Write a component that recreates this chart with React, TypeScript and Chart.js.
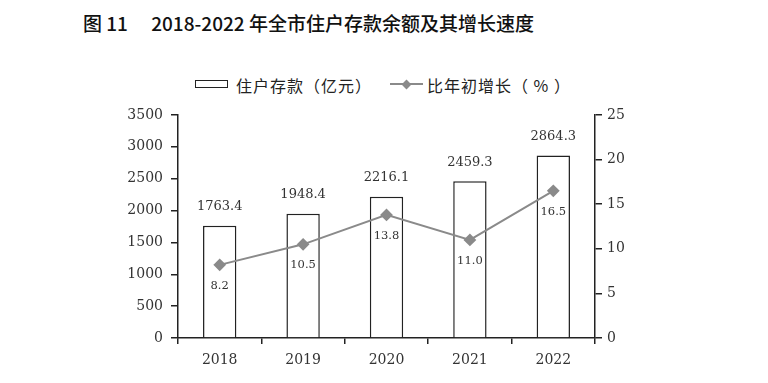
import React, { useEffect, useRef } from "react";
import { Chart, registerables } from "chart.js";

Chart.register(...registerables);

const categories = ["2018", "2019", "2020", "2021", "2022"];
const deposits = [1763.4, 1948.4, 2216.1, 2459.3, 2864.3];
const growth = [8.2, 10.5, 13.8, 11.0, 16.5];
const depositLabels = ["1763.4", "1948.4", "2216.1", "2459.3", "2864.3"];
const growthLabels = ["8.2", "10.5", "13.8", "11.0", "16.5"];

const titleText = "图 11\u2003 2018-2022 年全市住户存款余额及其增长速度";
const legendBar = "住户存款（亿元）";
const legendLine = "比年初增长（ % ）";

const serif = "'DejaVu Serif', 'Liberation Serif', serif";
const cjk = "'Noto Sans CJK SC', 'Noto Sans', sans-serif";
const axisColor = "#222";
const lineColor = "#8a8a8a";

const labelPlugin = {
  id: "valueLabels",
  afterDatasetsDraw(chart: any) {
    const ctx = chart.ctx;
    ctx.save();
    ctx.textAlign = "center";
    ctx.textBaseline = "middle";
    const barMeta = chart.getDatasetMeta(0);
    ctx.fillStyle = "#333";
    ctx.font = `13px ${serif}`;
    barMeta.data.forEach((el: any, i: number) => {
      ctx.fillText(depositLabels[i], el.x, el.y - 19);
    });
    const lineMeta = chart.getDatasetMeta(1);
    ctx.font = `11.5px ${serif}`;
    lineMeta.data.forEach((el: any, i: number) => {
      ctx.fillText(growthLabels[i], el.x, el.y + 21);
    });
    ctx.restore();
  },
};

export default function App() {
  const ref = useRef<HTMLCanvasElement | null>(null);

  useEffect(() => {
    if (!ref.current) return;
    const chart = new Chart(ref.current, {
      type: "bar",
      data: {
        labels: categories,
        datasets: [
          {
            type: "bar",
            label: legendBar,
            data: deposits,
            yAxisID: "y",
            backgroundColor: "#ffffff",
            borderColor: axisColor,
            borderWidth: 1.5,
            barPercentage: 0.4,
            categoryPercentage: 1,
            order: 2,
          },
          {
            type: "line",
            label: legendLine,
            data: growth,
            yAxisID: "y1",
            borderColor: lineColor,
            borderWidth: 2,
            backgroundColor: lineColor,
            pointStyle: "rectRot",
            pointRadius: 5,
            pointBackgroundColor: lineColor,
            pointBorderColor: lineColor,
            tension: 0,
            order: 1,
          },
        ],
      },
      options: {
        responsive: false,
        animation: false,
        layout: { padding: { top: 115, left: 0, right: 0, bottom: 0 } },
        plugins: {
          legend: { display: false },
          title: { display: false },
          tooltip: { enabled: false },
        },
        scales: {
          x: {
            offset: true,
            grid: {
              offset: true,
              drawOnChartArea: false,
              drawTicks: true,
              tickLength: 6,
              color: axisColor,
              lineWidth: 1.5,
            },
            border: { display: true, color: axisColor, width: 1.5 },
            ticks: { color: "#333", font: { family: serif, size: 14 }, padding: 8 },
            afterFit: (s: any) => {
              s.height = 45;
            },
          },
          y: {
            position: "left",
            min: 0,
            max: 3500,
            ticks: {
              stepSize: 500,
              color: "#333",
              font: { family: serif, size: 14 },
              padding: 8,
              callback: (v: any) => String(v),
            },
            grid: {
              drawOnChartArea: false,
              drawTicks: true,
              tickLength: 7,
              color: axisColor,
              lineWidth: 1.5,
            },
            border: { display: true, color: axisColor, width: 1.5 },
            afterFit: (s: any) => {
              s.width = 178;
            },
          },
          y1: {
            position: "right",
            min: 0,
            max: 25,
            ticks: {
              stepSize: 5,
              color: "#333",
              font: { family: serif, size: 14 },
              padding: 5,
              callback: (v: any) => String(v),
            },
            grid: {
              drawOnChartArea: false,
              drawTicks: true,
              tickLength: 7,
              color: axisColor,
              lineWidth: 1.5,
            },
            border: { display: true, color: axisColor, width: 1.5 },
            afterFit: (s: any) => {
              s.width = 173;
            },
          },
        },
      } as any,
      plugins: [labelPlugin],
    });
    return () => chart.destroy();
  }, []);

  const legendText: React.CSSProperties = {
    position: "absolute",
    top: 72,
    lineHeight: "26px",
    fontFamily: cjk,
    fontSize: 16,
    letterSpacing: 1,
    color: "#222",
    whiteSpace: "pre",
  };

  return (
    <div style={{ position: "fixed", left: 0, top: 0, width: 768, height: 383, background: "#fff", overflow: "hidden" }}>
      <div
        style={{
          position: "absolute",
          left: 83,
          top: 9,
          fontFamily: cjk,
          fontWeight: 500,
          fontSize: 19,
          lineHeight: "28px",
          color: "#111",
          whiteSpace: "pre",
        }}
      >
        {titleText}
      </div>
      <div
        style={{
          position: "absolute",
          left: 195,
          top: 80,
          width: 31,
          height: 6,
          border: "1.5px solid #222",
          boxSizing: "content-box",
        }}
      />
      <div style={{ ...legendText, left: 236 }}>{legendBar}</div>
      <div style={{ position: "absolute", left: 390, top: 83, width: 33, height: 2, background: lineColor }} />
      <div
        style={{
          position: "absolute",
          left: 403,
          top: 80.5,
          width: 7,
          height: 7,
          background: lineColor,
          transform: "rotate(45deg)",
        }}
      />
      <div style={{ ...legendText, left: 427 }}>{legendLine}</div>
      <canvas ref={ref} width={768} height={383} style={{ position: "absolute", left: 0, top: 0, width: 768, height: 383 }} />
    </div>
  );
}
